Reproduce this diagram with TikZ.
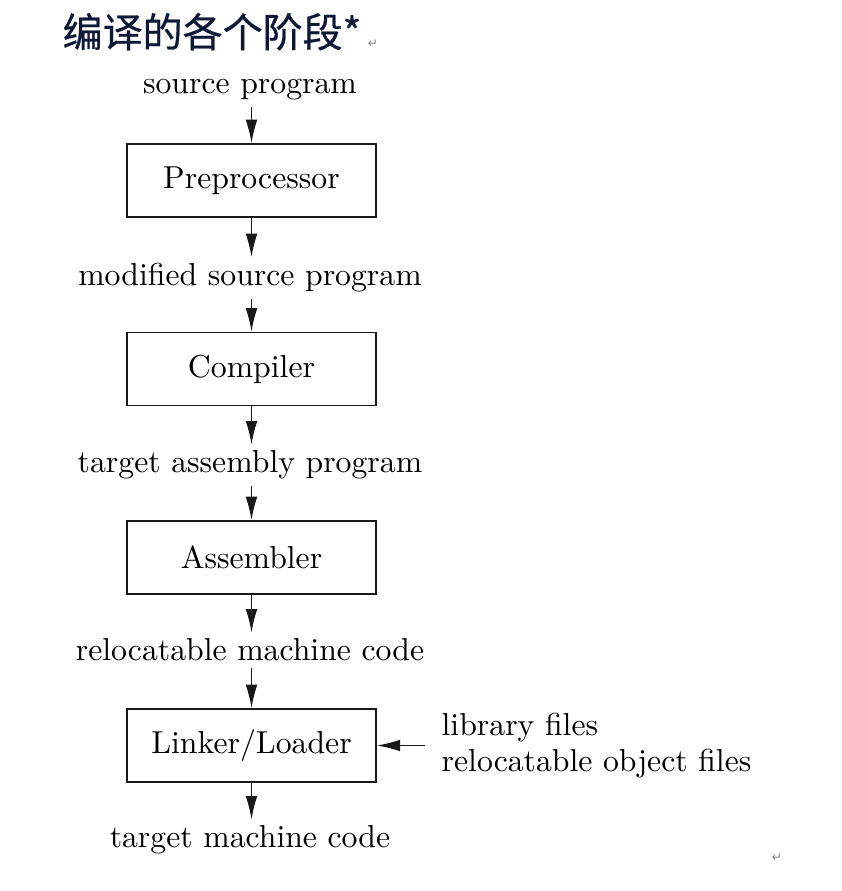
\documentclass[tikz,border=0pt]{standalone}
\usepackage{fontspec}
\newfontfamily\cjk[FakeBold=0.6]{Noto Sans CJK SC}
\newfontfamily\dejavu{DejaVu Sans}
\usetikzlibrary{arrows.meta}
\definecolor{titleblue}{HTML}{101838}
\tikzset{
  x=0.315pt, y=-0.315pt,
  lbl/.style={inner sep=0pt, font=\normalsize},
  stage/.style={draw=black!90, line width=0.48pt, minimum width=78.4pt, minimum height=23pt, inner sep=0pt},
  arr/.style={draw=black!90, line width=0.48pt, -{Latex[length=7.4pt,width=3.7pt]}},
  retmark/.style={inner sep=0pt, text=black!50, font=\dejavu\fontsize{3.8}{4}\selectfont},
}
\begin{document}
\begin{tikzpicture}
\useasboundingbox (0,0) rectangle (841,891);
\node[anchor=base west, inner sep=0pt, text=titleblue, font=\cjk\fontsize{12.6}{14}\selectfont] (title) at (62,47) {编译的各个阶段*};
\node[retmark] (ret1) at (373,44) {↵};
\node[retmark] (ret2) at (777,858) {↵};

\node[lbl, anchor=base] (l0) at (250,93) {source program};
\node[stage] (b1) at (251.5,180.5) {Preprocessor};
\node[lbl, anchor=base] (l1) at (250,285) {modified source program};
\node[stage] (b2) at (251.5,369) {Compiler};
\node[lbl, anchor=base] (l2) at (250,472) {target assembly program};
\node[stage] (b3) at (251.5,557.5) {Assembler};
\node[lbl, anchor=base] (l3) at (250,660) {relocatable machine code};
\node[stage] (b4) at (251.5,745.5) {Linker/Loader};
\node[lbl, anchor=base] (l4) at (250,847) {target machine code};

\node[lbl, anchor=base west] (lib) at (441,735) {library files};
\node[lbl, anchor=base west] (rel) at (441,771.5) {relocatable object files};
\coordinate (sidein) at (425,745.5);

\draw[arr, shorten <=2.2pt] (l0.south -| b1.north) -- (b1.north);
\draw[arr, shorten >=1.5pt] (b1.south) -- (l1.north -| b1.south);
\draw[arr, shorten <=2.2pt] (l1.south -| b2.north) -- (b2.north);
\draw[arr, shorten >=1.5pt] (b2.south) -- (l2.north -| b2.south);
\draw[arr, shorten <=2.2pt] (l2.south -| b3.north) -- (b3.north);
\draw[arr, shorten >=1.5pt] (b3.south) -- (l3.north -| b3.south);
\draw[arr, shorten <=2.2pt] (l3.south -| b4.north) -- (b4.north);
\draw[arr, shorten >=1.5pt] (b4.south) -- (l4.north -| b4.south);
\draw[arr] (sidein) -- (b4.east);
\end{tikzpicture}
\end{document}
